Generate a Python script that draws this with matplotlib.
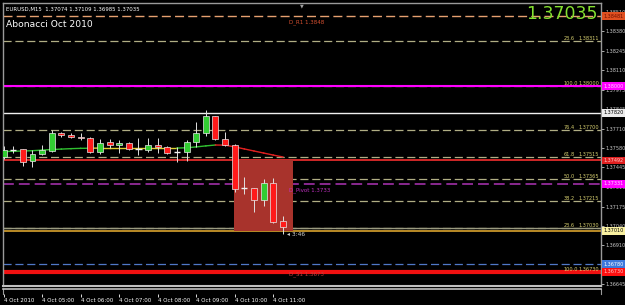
import matplotlib
matplotlib.use("Agg")
import matplotlib.pyplot as plt
import matplotlib.transforms as mtransforms
from matplotlib.patches import Rectangle

# --- data --------------------------------------------------------------
opens = [1.37516, 1.37564, 1.37571, 1.37488, 1.37536, 1.37557, 1.37680, 1.37667,
         1.37653, 1.37646, 1.37550, 1.37619, 1.37598, 1.37612, 1.37571, 1.37564,
         1.37598, 1.37584, 1.37550, 1.37550, 1.37619, 1.37680, 1.37797, 1.37639,
         1.37598, 1.37303, 1.37303, 1.37221, 1.37337, 1.37074]
highs = [1.37591, 1.37591, 1.37571, 1.37564, 1.37598, 1.37701, 1.37687, 1.37680,
         1.37680, 1.37653, 1.37639, 1.37639, 1.37632, 1.37619, 1.37646, 1.37646,
         1.37646, 1.37591, 1.37584, 1.37632, 1.37756, 1.37838, 1.37797, 1.37687,
         1.37605, 1.37379, 1.37303, 1.37365, 1.37372, 1.37109]
lows = [1.37502, 1.37543, 1.37454, 1.37447, 1.37529, 1.37550, 1.37653, 1.37646,
        1.37632, 1.37543, 1.37536, 1.37577, 1.37543, 1.37564, 1.37529, 1.37550,
        1.37543, 1.37536, 1.37481, 1.37488, 1.37584, 1.37660, 1.37632, 1.37591,
        1.37276, 1.37262, 1.37139, 1.37180, 1.37063, 1.36985]
closes = [1.37564, 1.37564, 1.37481, 1.37536, 1.37564, 1.37680, 1.37667, 1.37653,
          1.37646, 1.37550, 1.37612, 1.37598, 1.37612, 1.37571, 1.37571, 1.37598,
          1.37584, 1.37543, 1.37550, 1.37619, 1.37680, 1.37797, 1.37639, 1.37598,
          1.37296, 1.37303, 1.37221, 1.37337, 1.37070, 1.37035]
ma = [1.37553, 1.37555, 1.37557, 1.37559, 1.37563, 1.37567, 1.37570, 1.37573,
      1.37575, 1.37576, 1.37577, 1.37577, 1.37577, 1.37577, 1.37577, 1.37577,
      1.37577, 1.37577, 1.37577, 1.37579, 1.37585, 1.37592, 1.37598, 1.37597,
      1.37585, 1.37571, 1.37557, 1.37543, 1.37529, 1.37516]

time_labels = ["4 Oct 2010", "4 Oct 05:00", "4 Oct 06:00", "4 Oct 07:00",
               "4 Oct 08:00", "4 Oct 09:00", "4 Oct 10:00", "4 Oct 11:00"]
bars_per_label = 4

price_ticks = [1.38510, 1.38380, 1.38245, 1.38110, 1.37975, 1.37845, 1.37710,
               1.37580, 1.37445, 1.37310, 1.37175, 1.37040, 1.36910, 1.36775,
               1.36645]

fib_levels = ["23.6", "100.0", "76.4", "61.8", "50.0", "38.2", "23.6", "100.0"]
fib_prices = [1.38311, 1.38000, 1.37700, 1.37515, 1.37365, 1.37215, 1.37030, 1.36730]

pivot_names = ["D_R1", "D_Pivot", "D_S1"]
pivot_prices = [1.3848, 1.3733, 1.3673]

r1_line = 1.38481
pivot_line = 1.37331
blue_line = 1.36780
white_line = 1.37820
red_line = 1.37492
gold_line = 1.37010
s1_line = 1.36730

zone_top = 1.37492
zone_bottom = 1.37010
zone_first_bar = 24

symbol = "EURUSD,M15"
title = "Abonacci Oct 2010"
timer = "3:46"

# --- figure ---------------------------------------------------------------
W, H = 625, 305
fig = plt.figure(figsize=(W / 100, H / 100), dpi=100, facecolor="black")


def box(x0, y0, x1, y1):
    return [x0 / W, 1 - y1 / H, (x1 - x0) / W, (y1 - y0) / H]


x0_px, step_px = 3.6, 9.63
ax = fig.add_axes(box(3, 3, 601, 286))
ax.set_facecolor("black")
ax.set_xlim((3 - x0_px) / step_px, (601 - x0_px) / step_px)
ax.set_ylim(1.36631, 1.38572)
for s in ax.spines.values():
    s.set_color("#9a9a9a")
    s.set_linewidth(1)
ax.spines["bottom"].set_color("#c0c0c0")
ax.spines["bottom"].set_linewidth(1.5)

n = len(opens)
xs = list(range(n))
rt = mtransforms.blended_transform_factory(ax.transAxes, ax.transData)

# fibonacci levels (dashed)
khaki = "#b0ae84"
for lvl, p in zip(fib_levels, fib_prices):
    ax.axhline(p, color=khaki, lw=0.9, dashes=(6.5, 3), zorder=1)
    ax.text(0.938, p, lvl, transform=rt, color="#d8d070", fontsize=3.6,
            ha="left", va="bottom", zorder=4)
    ax.text(0.997, p, "%.5f" % p, transform=rt, color="#d8d070", fontsize=3.6,
            ha="right", va="bottom", zorder=4)

# pivot lines
ax.axhline(r1_line, color="#e6a070", lw=1.0, dashes=(6.5, 3), zorder=1)
ax.axhline(pivot_line, color="#a030a8", lw=1.2, dashes=(6.5, 3), zorder=1)
ax.axhline(blue_line, color="#5078c8", lw=0.9, dashes=(6.5, 3), zorder=1)

# solid lines
ax.axhline(fib_prices[1], color="#ff00ff", lw=1.5, zorder=2)
ax.axhline(white_line, color="#f0f0f0", lw=1.0, zorder=2)
ax.axhline(red_line, color="#d02828", lw=1.4, zorder=2)
ax.axhline(fib_prices[6], color="#9a9a80", lw=1.0, zorder=2)
ax.axhline(gold_line, color="#c8962a", lw=1.3, zorder=2)
ax.axhline(s1_line, color="#f01010", lw=3.0, zorder=2)

pivot_colors = ["#d85030", "#c030c0", "#c04040"]
pivot_offsets = [-2, -2, 0]
for name, p, c, off in zip(pivot_names, pivot_prices, pivot_colors, pivot_offsets):
    ax.annotate("%s %.4f" % (name, p), (n - 0.4, p), xytext=(0, off),
                textcoords="offset points", color=c, fontsize=4,
                ha="left", va="top", zorder=4)

# supply/demand zone
ax.add_patch(Rectangle((zone_first_bar - 0.1, zone_bottom), n - zone_first_bar + 0.1,
                       zone_top - zone_bottom, facecolor="#a8332c", edgecolor="none",
                       zorder=2.2))

# moving average, coloured by slope
for i in range(n - 1):
    d = ma[i + 1] - ma[i]
    c = "#30c030" if d > 0.00001 else ("#e02020" if d < -0.00001 else "#e0d030")
    ax.plot(xs[i:i + 2], ma[i:i + 2], color=c, lw=1.0, zorder=2.5)

# candles
for i in xs:
    o, h, l, c = opens[i], highs[i], lows[i], closes[i]
    ax.vlines(i, l, h, color="#e0e0e0", lw=0.7, zorder=3)
    if abs(c - o) < 0.00002:
        ax.hlines(o, i - 0.32, i + 0.32, color="#f0f0f0", lw=1.0, zorder=3.5)
    else:
        col = "#32cd32" if c > o else "#ff1a1a"
        ax.bar(i, abs(c - o), bottom=min(o, c), width=0.62, color=col,
               edgecolor="#e8e8e8", linewidth=0.5, zorder=3.5)

ax.annotate("\u25c2 " + timer, (n - 0.6, gold_line), xytext=(0, -1),
            textcoords="offset points", color="#d0d0d0", fontsize=4.2,
            ha="left", va="top", zorder=4)

# right price scale
ax.yaxis.tick_right()
ax.set_yticks(price_ticks)
ax.set_yticklabels(["%.5f" % p for p in price_ticks])
ax.tick_params(axis="y", colors="#c8c8c8", labelsize=3.5, length=2, pad=1, width=0.6)
ax.set_xticks([])

tags = [(r1_line, "#e05020", "#701000"), (fib_prices[1], "#ff00ff", "#ffd8ff"),
        (white_line, "#ececec", "#000000"), (red_line, "#e02020", "#ffc8c8"),
        (pivot_line, "#ff00ff", "#ffd8ff"), (gold_line, "#f8f0a0", "#000000"),
        (blue_line, "#3c78dc", "#ffffff"), (s1_line, "#ff1010", "#ffc8c8")]
for p, fc, tc in tags:
    ax.text(1.004, p, "%.5f" % p, transform=rt, color=tc, fontsize=3.5,
            ha="left", va="center", clip_on=False, zorder=6,
            bbox=dict(boxstyle="square,pad=0.3", fc=fc, ec="none"))

# header texts
ax.text(0.005, 0.988, "%s  %.5f %.5f %.5f %.5f" % (symbol, opens[-1], highs[-1],
        lows[-1], closes[-1]), transform=ax.transAxes, color="white",
        fontsize=3.9, ha="left", va="top", zorder=6)
ax.text(0.005, 0.94, title, transform=ax.transAxes, color="white",
        fontsize=6.6, ha="left", va="top", zorder=6)
ax.text(0.995, 0.993, "%.5f" % closes[-1], transform=ax.transAxes,
        color="#84e030", fontsize=12.5, ha="right", va="top", zorder=6)
ax.text(0.5, 1.0, "\u25bc", transform=ax.transAxes, color="#a0a0a0",
        fontsize=3.5, ha="center", va="top", zorder=6)

# small indicator sub-window + time axis
sub = fig.add_axes(box(3, 289, 601, 294))
sub.set_facecolor("black")
sub.set_xlim(ax.get_xlim())
sub.set_yticks([])
for s in sub.spines.values():
    s.set_visible(False)
sub.spines["top"].set_visible(True)
sub.spines["top"].set_color("#c0c0c0")
sub.spines["top"].set_linewidth(1.2)
sub.spines["left"].set_visible(True)
sub.spines["left"].set_color("#9a9a9a")
sub.spines["right"].set_visible(True)
sub.spines["right"].set_color("#9a9a9a")
tick_pos = [k * bars_per_label for k in range(len(time_labels))]
sub.set_xticks(tick_pos)
sub.set_xticklabels(time_labels, ha="left")
sub.tick_params(axis="x", colors="white", labelsize=4, length=2, pad=1, width=0.6)

fig.savefig("out.png", dpi=100, facecolor="black")
